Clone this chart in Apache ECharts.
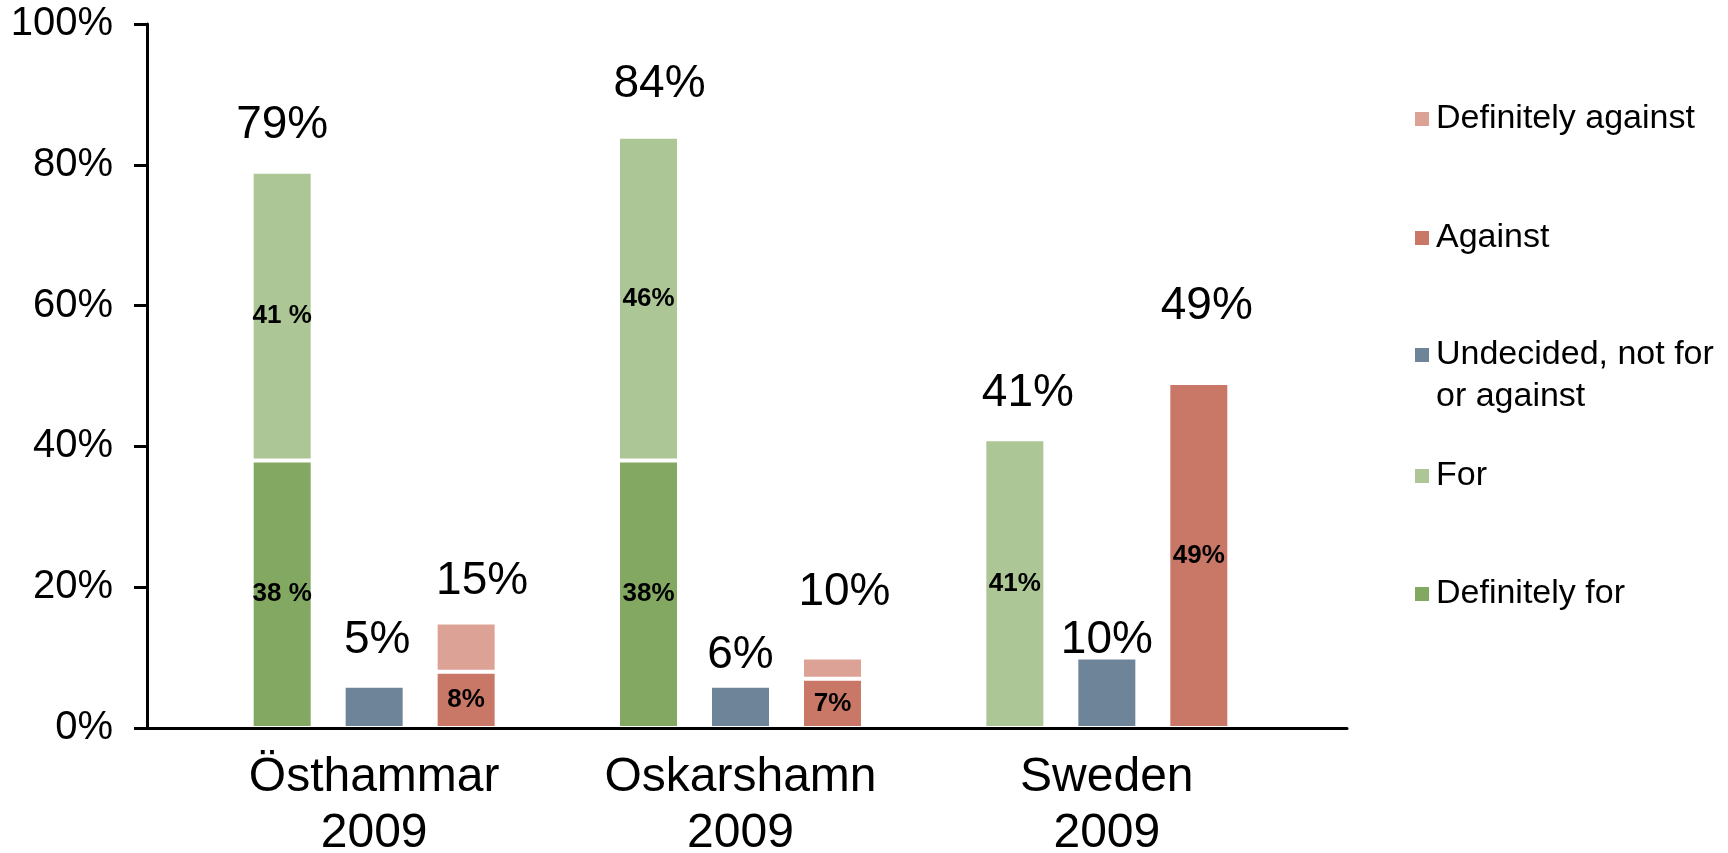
<!DOCTYPE html>
<html>
<head>
<meta charset="utf-8">
<script src="https://cdn.jsdelivr.net/npm/echarts@6/dist/echarts.min.js"></script>
<style>
html,body{margin:0;padding:0;background:#fff;}
#chart{width:1728px;height:853px;}
</style>
</head>
<body>
<div id="chart"></div>
<script>
// ---- data ----
const categories = ['Östhammar\n2009', 'Oskarshamn\n2009', 'Sweden\n2009'];
const definitelyFor = [38, 38, '-'];
const forVals = [41, 46, 41];
const undecided = [6, 6, 10];
const against = [8, 7, 49];
const definitelyAgainst = [7, 3, '-'];
const forTotalLabels = ['79%', '84%', '41%'];
const undecidedLabels = ['5%', '6%', '10%'];
const againstTotalLabels = ['15%', '10%', '49%'];
const definitelyForInner = ['38 %', '38%', ''];
const forInner = ['41 %', '46%', '41%'];
const againstInner = ['8%', '7%', '49%'];
const yMin = 0, yMax = 100, yStep = 20;
const legendNames = ['Definitely against', 'Against', 'Undecided, not for or against', 'For', 'Definitely for'];

// ---- layout / style ----
const FONT = "'Liberation Sans', Arial, sans-serif";
const colors = {
  'Definitely for': '#82A862',
  'For': '#ACC695',
  'Undecided, not for or against': '#6E8599',
  'Against': '#C97767',
  'Definitely against': '#DDA296'
};
// label shifts [dx, dy up] for the total labels above each stack
const shiftFor = [[0, 24], [11, 29], [13, 23]];
const shiftUnd = [[3, 22], [0, 7], [0, -6]];
const shiftAg = [[16, 18], [12, 42], [8, 54]];
const legendCenters = [119, 238, 355, 476, 594];

const BAR_W = 61, BAR_GAP = '50.8%';

function segSeries(name, stack, data, inner) {
  return {
    name: name, type: 'bar', stack: stack, xAxisIndex: 1, yAxisIndex: 1,
    barWidth: BAR_W, barGap: BAR_GAP,
    data: data,
    itemStyle: { color: colors[name], borderColor: '#ffffff', borderWidth: 2 },
    label: inner ? {
      show: true, position: 'inside', color: '#000', fontFamily: FONT,
      fontWeight: 'bold', fontSize: 26,
      formatter: p => inner[p.dataIndex]
    } : { show: false },
    emphasis: { disabled: true },
    z: 3
  };
}
function totalSeries(stack, texts, shifts) {
  return {
    name: 'total-' + stack, type: 'bar', stack: stack, xAxisIndex: 1, yAxisIndex: 1,
    barWidth: BAR_W, barGap: BAR_GAP,
    data: texts.map((t, i) => ({ value: 0, label: { offset: [shifts[i][0], -shifts[i][1]] } })),
    itemStyle: { color: 'rgba(0,0,0,0)', borderWidth: 0 },
    label: {
      show: true, position: 'top', distance: 0, color: '#000', fontFamily: FONT,
      fontSize: 46, lineHeight: 46,
      formatter: p => texts[p.dataIndex]
    },
    emphasis: { disabled: true },
    z: 4
  };
}

const legends = legendNames.map((n, i) => {
  const two = n === 'Undecided, not for or against';
  return {
    data: [n], orient: 'vertical', left: 1413,
    top: two ? legendCenters[i] - 63 : legendCenters[i] - 21,
    padding: 0, itemWidth: 16, itemHeight: 16, itemGap: 0,
    icon: 'rect', selectedMode: false,
    formatter: two ? () => '\nUndecided, not for\nor against' : undefined,
    textStyle: {
      fontFamily: FONT, fontSize: 34, color: '#000', lineHeight: 42,
      padding: [0, 0, 0, 1]
    }
  };
});

const option = {
  animation: false,
  backgroundColor: '#ffffff',
  textStyle: { fontFamily: FONT },
  legend: legends,
  grid: [
    { left: 147, right: 381, top: 24, bottom: 125, containLabel: false, outerBoundsMode: 'none' },
    { left: 191, right: 438, top: 24, bottom: 125, containLabel: false, outerBoundsMode: 'none' }
  ],
  xAxis: [
    {
      type: 'value', gridIndex: 0, min: 0, max: 1, z: 10,
      axisLine: { show: true, lineStyle: { color: '#000', width: 3 } },
      axisTick: { show: false }, axisLabel: { show: false }, splitLine: { show: false }
    },
    {
      type: 'category', gridIndex: 1, data: categories,
      axisLine: { show: false }, axisTick: { show: false }, splitLine: { show: false },
      axisLabel: {
        show: true, interval: 0, margin: 22, color: '#000', fontFamily: FONT,
        fontSize: 48, lineHeight: 56
      }
    }
  ],
  yAxis: [
    {
      type: 'value', gridIndex: 0, min: yMin, max: yMax, interval: yStep, z: 10,
      axisLine: { show: true, lineStyle: { color: '#000', width: 3 } },
      axisTick: { show: true, inside: false, length: 13, lineStyle: { color: '#000', width: 3 } },
      axisLabel: { show: true, margin: 34, color: '#000', fontFamily: FONT, fontSize: 40, formatter: '{value}%' },
      splitLine: { show: false }
    },
    {
      type: 'value', gridIndex: 1, min: yMin, max: yMax, interval: yStep, show: false,
      splitLine: { show: false }
    }
  ],
  series: [
    segSeries('Definitely for', 'for', definitelyFor, definitelyForInner),
    segSeries('For', 'for', forVals, forInner),
    totalSeries('for', forTotalLabels, shiftFor),
    segSeries('Undecided, not for or against', 'und', undecided, null),
    totalSeries('und', undecidedLabels, shiftUnd),
    segSeries('Against', 'ag', against, againstInner),
    segSeries('Definitely against', 'ag', definitelyAgainst, null),
    totalSeries('ag', againstTotalLabels, shiftAg)
  ]
};

const chart = echarts.init(document.getElementById('chart'), null, { renderer: 'canvas' });
chart.setOption(option);
</script>
</body>
</html>
